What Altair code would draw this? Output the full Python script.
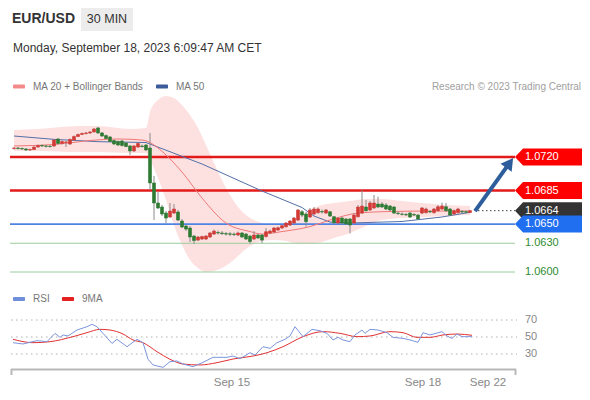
import altair as alt
import pandas as pd

FONT = "Liberation Sans"

# ---------------- candle data (30 min, EUR/USD) ----------------
candle_open = [1.07289,1.07294,1.07289,1.07284,1.07273,1.07278,1.07304,1.07320,1.07315,1.07312,
    1.07315,1.07388,1.07341,1.07351,1.07336,1.07377,1.07414,1.07435,1.07445,1.07451,
    1.07461,1.07503,1.07451,1.07424,1.07409,1.07372,1.07362,1.07367,1.07346,1.07315,
    1.07263,1.07304,1.07315,1.07325,1.07294,1.06929,1.06720,1.06678,1.06615,1.06574,
    1.06615,1.06626,1.06532,1.06480,1.06459,1.06375,1.06333,1.06344,1.06344,1.06365,
    1.06396,1.06412,1.06407,1.06401,1.06398,1.06396,1.06386,1.06407,1.06396,1.06375,
    1.06344,1.06386,1.06386,1.06370,1.06407,1.06417,1.06438,1.06459,1.06472,1.06490,
    1.06511,1.06542,1.06629,1.06605,1.06574,1.06605,1.06619,1.06631,1.06615,1.06629,
    1.06577,1.06511,1.06563,1.06553,1.06553,1.06511,1.06577,1.06615,1.06678,1.06647,
    1.06668,1.06709,1.06709,1.06699,1.06688,1.06678,1.06615,1.06605,1.06600,1.06615,
    1.06600,1.06594,1.06615,1.06619,1.06631,1.06619,1.06639,1.06657,1.06681,1.06657,
    1.06605,1.06619,1.06631,1.06629,1.06621]
candle_close = [1.07294,1.07289,1.07284,1.07273,1.07278,1.07304,1.07320,1.07315,1.07312,1.07309,
    1.07377,1.07341,1.07362,1.07357,1.07383,1.07414,1.07435,1.07445,1.07451,1.07461,
    1.07492,1.07451,1.07419,1.07393,1.07362,1.07336,1.07325,1.07320,1.07309,1.07263,
    1.07315,1.07341,1.07309,1.07273,1.06929,1.06720,1.06668,1.06605,1.06563,1.06636,
    1.06657,1.06542,1.06469,1.06448,1.06365,1.06328,1.06365,1.06370,1.06375,1.06407,
    1.06427,1.06407,1.06401,1.06396,1.06394,1.06391,1.06407,1.06365,1.06344,1.06318,
    1.06386,1.06355,1.06333,1.06420,1.06427,1.06459,1.06462,1.06483,1.06511,1.06532,
    1.06563,1.06647,1.06594,1.06525,1.06647,1.06657,1.06657,1.06626,1.06647,1.06584,
    1.06514,1.06563,1.06511,1.06501,1.06490,1.06594,1.06678,1.06688,1.06639,1.06720,
    1.06720,1.06678,1.06678,1.06657,1.06647,1.06615,1.06610,1.06602,1.06596,1.06574,
    1.06594,1.06553,1.06668,1.06657,1.06626,1.06657,1.06681,1.06688,1.06639,1.06594,
    1.06639,1.06657,1.06626,1.06624,1.06640]
candle_high = [1.07304,1.07304,1.07299,1.07294,1.07289,1.07309,1.07330,1.07330,1.07325,1.07325,
    1.07388,1.07398,1.07372,1.07367,1.07393,1.07424,1.07445,1.07456,1.07461,1.07471,
    1.07503,1.07513,1.07461,1.07435,1.07419,1.07383,1.07372,1.07377,1.07357,1.07325,
    1.07325,1.07351,1.07330,1.07336,1.07451,1.07002,1.06835,1.06699,1.06636,1.06720,
    1.06709,1.06647,1.06553,1.06490,1.06480,1.06386,1.06375,1.06380,1.06386,1.06417,
    1.06443,1.06433,1.06427,1.06417,1.06417,1.06412,1.06422,1.06417,1.06407,1.06386,
    1.06427,1.06396,1.06396,1.06459,1.06443,1.06469,1.06474,1.06495,1.06521,1.06542,
    1.06574,1.06657,1.06647,1.06626,1.06668,1.06678,1.06672,1.06652,1.06657,1.06636,
    1.06584,1.06574,1.06574,1.06563,1.06563,1.06615,1.06699,1.06855,1.06751,1.06741,
    1.06803,1.06786,1.06730,1.06720,1.06699,1.06688,1.06631,1.06621,1.06615,1.06626,
    1.06615,1.06605,1.06678,1.06672,1.06647,1.06668,1.06699,1.06723,1.06720,1.06668,
    1.06652,1.06668,1.06647,1.06642,1.06647]
candle_low = [1.07278,1.07278,1.07273,1.07263,1.07263,1.07273,1.07299,1.07304,1.07299,1.07299,
    1.07304,1.07330,1.07330,1.07304,1.07325,1.07367,1.07409,1.07430,1.07435,1.07440,
    1.07456,1.07440,1.07409,1.07388,1.07357,1.07325,1.07315,1.07309,1.07304,1.07221,
    1.07252,1.07294,1.07299,1.07263,1.06855,1.06542,1.06657,1.06584,1.06511,1.06563,
    1.06605,1.06532,1.06459,1.06427,1.06313,1.06292,1.06323,1.06333,1.06333,1.06355,
    1.06386,1.06391,1.06386,1.06380,1.06375,1.06375,1.06375,1.06355,1.06333,1.06297,
    1.06333,1.06344,1.06302,1.06360,1.06396,1.06407,1.06427,1.06448,1.06464,1.06480,
    1.06501,1.06532,1.06574,1.06472,1.06563,1.06594,1.06610,1.06610,1.06605,1.06574,
    1.06501,1.06501,1.06495,1.06490,1.06403,1.06501,1.06568,1.06605,1.06631,1.06636,
    1.06657,1.06668,1.06668,1.06647,1.06636,1.06605,1.06594,1.06589,1.06584,1.06563,
    1.06584,1.06542,1.06605,1.06610,1.06615,1.06610,1.06631,1.06647,1.06631,1.06584,
    1.06594,1.06610,1.06615,1.06610,1.06613]

# ---------------- indicators ----------------
band_idx = [0,6,16,21,29,33,34,36,38,40,42,44,46,48,50,52,54,56,58,60,62,65,68,71,74,77,80,84,88,92,97,102,108,114]
band_upper = [1.07482,1.07492,1.07524,1.07524,1.07492,1.07503,1.07670,1.07795,1.07837,1.07816,
    1.07743,1.07638,1.07503,1.07325,1.07137,1.06960,1.06803,1.06678,1.06594,1.06542,
    1.06511,1.06490,1.06490,1.06563,1.06647,1.06699,1.06720,1.06741,1.06762,1.06762,
    1.06741,1.06720,1.06699,1.06688]
band_lower = [1.07263,1.07263,1.07252,1.07252,1.07242,1.07242,1.07169,1.06981,1.06751,1.06490,
    1.06281,1.06125,1.06041,1.05999,1.06010,1.06041,1.06093,1.06166,1.06240,1.06292,
    1.06323,1.06333,1.06323,1.06292,1.06292,1.06313,1.06354,1.06407,1.06480,1.06542,
    1.06563,1.06574,1.06584,1.06594]

ma20_idx = [0,10,19,26,32,34,36,42,47,53,59,62,67,74,79,86,94,104,114]
ma20_val = [1.07315,1.07330,1.07372,1.07388,1.07377,1.07351,1.07294,1.07043,1.06772,1.06511,
    1.06422,1.06396,1.06422,1.06474,1.06542,1.06615,1.06631,1.06636,1.06636]

ma50_idx = [0,10,21,33,47,62,72,75,79,84,97,107,114]
ma50_val = [1.07419,1.07384,1.07360,1.07351,1.07127,1.06845,1.06673,1.06584,1.06521,1.06511,
    1.06527,1.06574,1.06623]

rsi_idx = [-0.25,2.25,5.75,8.25,10.25,11.5,12.25,13.5,15.75,18.25,19.5,20.75,22.25,24.5,25.75,
    28.25,30.75,32.25,33.5,34.75,37.25,39,40.75,42.25,44.75,47.25,49.75,53.25,54.75,56.5,
    59,60.25,62.25,64,65.75,67.75,69,70.25,72.25,74.5,76.5,78.25,79.75,81,82.25,84,85.25,
    87,87.75,89,91,93.25,94.75,97.25,99,101,102.25,104,107,108.25,109.5,110.75,112,114.5]
rsi_val = [43.3,41.8,45.7,44.5,54.3,49.6,52.4,51.2,58.2,62.1,64.9,62.1,54.3,42.5,47.3,
    38.6,47.3,43.3,23.8,17.1,14.3,21.0,21.8,18.2,15.1,20.2,26.1,26.1,27.6,24.5,
    31.5,28.8,38.6,36.7,43.3,47.3,51.2,62.1,50.4,59.0,57.4,54.3,46.5,49.6,46.5,44.5,52.4,
    58.2,54.3,59.0,58.2,55.1,49.6,48.4,46.5,43.8,55.1,52.4,56.3,51.2,48.4,53.5,50.4,50.4]

ma9_idx = [-0.25,4.75,9,14.75,18.25,21.5,24,27.25,29.75,32.25,35.75,39,42.25,46.5,50.75,
    54.75,59.75,63.25,67.25,72.25,77.25,81.5,85.75,89,94,97.25,100.75,104,107.25,110.75,114.5]
ma9_val = [47.3,43.3,44.5,50.4,55.1,59.0,58.2,53.5,46.5,43.3,32.7,23.8,18.2,17.1,19.8,
    24.1,27.6,31.5,38.6,50.4,56.3,54.3,50.4,51.2,56.3,55.1,49.6,49.6,52.4,53.5,52.0]

resistance = [1.0720, 1.0685]
pivot = [1.0650]
supports = [1.0630, 1.0600]
last_price = [1.0664]
tag_prices = [1.0720, 1.0685, 1.0664, 1.0650]
tag_labels = ["1.0720", "1.0685", "1.0664", "1.0650"]
tag_fills = ["#ff0000", "#ff0000", "#333333", "#1f6ff0"]
support_labels = ["1.0630", "1.0600"]

arrow_idx = [115.25, 123.9]
arrow_price = [1.06636, 1.07138]

rsi_levels = [70, 50, 30]
date_idx = [54.5, 102.25, 118.5]
date_labels = ["Sep 15", "Sep 18", "Sep 22"]

# ---------------- frames ----------------
candles = pd.DataFrame({"i": list(range(len(candle_open))), "open": candle_open,
                        "close": candle_close, "high": candle_high, "low": candle_low})
candles["dir"] = ["up" if c >= o else "down" for o, c in zip(candle_open, candle_close)]
band = pd.DataFrame({"i": band_idx, "upper": band_upper, "lower": band_lower})
ma20 = pd.DataFrame({"i": ma20_idx, "v": ma20_val})
ma50 = pd.DataFrame({"i": ma50_idx, "v": ma50_val})
rsi = pd.DataFrame({"i": rsi_idx, "v": rsi_val})
ma9 = pd.DataFrame({"i": ma9_idx, "v": ma9_val})
tags = pd.DataFrame({"p": tag_prices, "label": tag_labels, "fill": tag_fills})
sup = pd.DataFrame({"p": supports, "label": support_labels})
arrow = pd.DataFrame({"i": arrow_idx, "p": arrow_price})
dates = pd.DataFrame({"i": date_idx, "label": date_labels})
ONE = pd.DataFrame({"a": [0]})

# ---------------- scales (page coords minus 8px margin) ----------------
XS = alt.Scale(domain=[0, 100], range=[6, 406], nice=False, zero=False, padding=0)
PS = alt.Scale(domain=[1.06, 1.072], range=[264, 149], nice=False, zero=False)
RS = alt.Scale(domain=[30, 70], range=[346, 312], nice=False, zero=False)

def X(f="i"):
    return alt.X(f + ":Q", scale=XS, axis=None)

def PY(f):
    return alt.Y(f + ":Q", scale=PS, axis=None)

def RY(f):
    return alt.Y(f + ":Q", scale=RS, axis=None)

RED_C = "#d23a36"
GRN_C = "#2e7a32"

band_l = alt.Chart(band).mark_area(color="#fde1e1", interpolate="monotone").encode(
    x=X(), y=PY("upper"), y2="lower:Q")

def hlines(vals, color, w, dash=None, x0=2, x1=507):
    df = pd.DataFrame({"p": vals})
    kw = dict(color=color, strokeWidth=w)
    if dash:
        kw["strokeDash"] = dash
    return alt.Chart(df).mark_rule(**kw).encode(
        y=PY("p"), x=alt.value(x0), x2=alt.value(x1))

res_l = hlines(resistance, "#e31a1a", 2.5)
piv_l = hlines(pivot, "#4f83e3", 1.6)
sup_l = hlines(supports, "#9ccc9c", 1)
last_l = hlines(last_price, "#444444", 1, dash=[1.5, 2.5], x0=470, x1=507)

ma50_l = alt.Chart(ma50).mark_line(color="#5370a8", strokeWidth=1).encode(x=X(), y=PY("v"))
ma20_l = alt.Chart(ma20).mark_line(color="#f07878", strokeWidth=1, interpolate="monotone").encode(
    x=X(), y=PY("v"))

dir_scale = alt.Scale(domain=["up", "down"], range=[RED_C, GRN_C])
wick_l = alt.Chart(candles).mark_rule(color="#8a8a8a", strokeWidth=1).encode(
    x=X(), y=PY("low"), y2="high:Q")
body_l = alt.Chart(candles).mark_bar(size=3, strokeWidth=0.6).encode(
    x=X(), y=PY("open"), y2="close:Q",
    color=alt.Color("dir:N", scale=dir_scale, legend=None),
    stroke=alt.Stroke("dir:N", scale=dir_scale, legend=None))

ARROW_C = "#2e5d9c"
arrow_line = alt.Chart(arrow).mark_line(color=ARROW_C, strokeWidth=4).encode(x=X(), y=PY("p"))
arrow_head = alt.Chart(arrow.tail(1)).mark_point(
    shape="triangle-up", angle=36, size=190, filled=True, opacity=1, color=ARROW_C
).encode(x=X(), y=PY("p"))

TAG = "M-1,0L-0.76,-0.254L1,-0.254L1,0.254L-0.76,0.254Z"
tag_l = alt.Chart(tags).mark_point(shape=TAG, size=4489, filled=True, opacity=1, strokeWidth=0).encode(
    x=alt.value(540.5), y=PY("p"), color=alt.Color("fill:N", scale=None, legend=None))
tag_t = alt.Chart(tags).mark_text(align="left", baseline="middle", color="white",
                                  fontSize=11, font=FONT).encode(
    x=alt.value(517), y=PY("p"), text="label:N")
sup_t = alt.Chart(sup).mark_text(align="left", baseline="middle", color="#2e8b2e",
                                 fontSize=11, font=FONT).encode(
    x=alt.value(517), y=PY("p"), text="label:N")

price = alt.layer(band_l, sup_l, piv_l, res_l, ma50_l, ma20_l, wick_l, body_l, last_l,
                  arrow_line, arrow_head, tag_l, tag_t, sup_t)

# ---------------- RSI panel ----------------
rgrid = alt.Chart(pd.DataFrame({"v": rsi_levels})).mark_rule(
    color="#b0b0b0", strokeWidth=1, strokeDash=[1.5, 3.5]).encode(
    y=RY("v"), x=alt.value(3), x2=alt.value(509))
rgrid_t = alt.Chart(pd.DataFrame({"v": rsi_levels})).mark_text(
    align="left", baseline="middle", color="#888888", fontSize=11, font=FONT).encode(
    y=RY("v"), x=alt.value(517), text="v:N")
rsi_l = alt.Chart(rsi).mark_line(color="#7d96dc", strokeWidth=1).encode(x=X(), y=RY("v"))
ma9_l = alt.Chart(ma9).mark_line(color="#e23232", strokeWidth=1, interpolate="monotone").encode(
    x=X(), y=RY("v"))
date_t = alt.Chart(dates).mark_text(align="center", baseline="middle", color="#888888",
                                    fontSize=11.5, font=FONT).encode(
    x=X(), y=alt.value(375), text="label:N")
rsi_panel = alt.layer(rgrid, rgrid_t, ma9_l, rsi_l, date_t)

# ---------------- static decoration ----------------
def txt(s, x, y, size=10, color="#777777", weight="normal", align="left"):
    return alt.Chart(ONE).mark_text(text=s, align=align, baseline="middle", fontSize=size,
                                    color=color, fontWeight=weight, font=FONT).encode(
        x=alt.value(x - 8), y=alt.value(y - 8))

def box(x0, x1, y0, y1, color, radius=0):
    return alt.Chart(ONE).mark_rect(color=color, cornerRadius=radius).encode(
        x=alt.value(x0 - 8), x2=alt.value(x1 - 8), y=alt.value(y0 - 8), y2=alt.value(y1 - 8))

def rule(x0, x1, y0, y1, color, w):
    return alt.Chart(ONE).mark_rule(color=color, strokeWidth=w).encode(
        x=alt.value(x0 - 8), x2=alt.value(x1 - 8), y=alt.value(y0 - 8), y2=alt.value(y1 - 8))

static = alt.layer(
    box(81, 133, 6, 31, "#ececec"),
    txt("EUR/USD", 12, 19, size=14, color="#333333", weight="bold"),
    txt("30 MIN", 107, 19, size=12.5, color="#333333", align="center"),
    txt("Monday, September 18, 2023 6:09:47 AM CET", 13, 48, size=12, color="#333333"),
    box(13, 25, 84.5, 88.5, "#f28a8a", 1),
    txt("MA 20 + Bollinger Bands", 33, 86.5),
    box(156, 168, 84.5, 88.5, "#3c5b9b", 1),
    txt("MA 50", 176, 86.5),
    txt("Research \u00a9 2023 Trading Central", 581, 86.5, color="#a0a0a0", align="right"),
    box(13, 25, 297, 301, "#6f8edc", 1),
    txt("RSI", 33, 299),
    box(62, 74, 297, 301, "#e42020", 1),
    txt("9MA", 82, 299),
    rule(11, 516, 369.5, 369.5, "#b8b8b8", 2),
    rule(11.5, 11.5, 369, 375, "#b8b8b8", 2),
    rule(515.5, 515.5, 369, 375, "#b8b8b8", 2),
)

chart = alt.layer(price, rsi_panel, static).resolve_scale(y="independent").properties(
    width=574, height=384, padding=0,
    autosize=alt.AutoSizeParams(type="none"),
    background="white",
).configure_view(stroke=None)

chart.save("out.html", embed_options={"renderer": "svg", "actions": False})
